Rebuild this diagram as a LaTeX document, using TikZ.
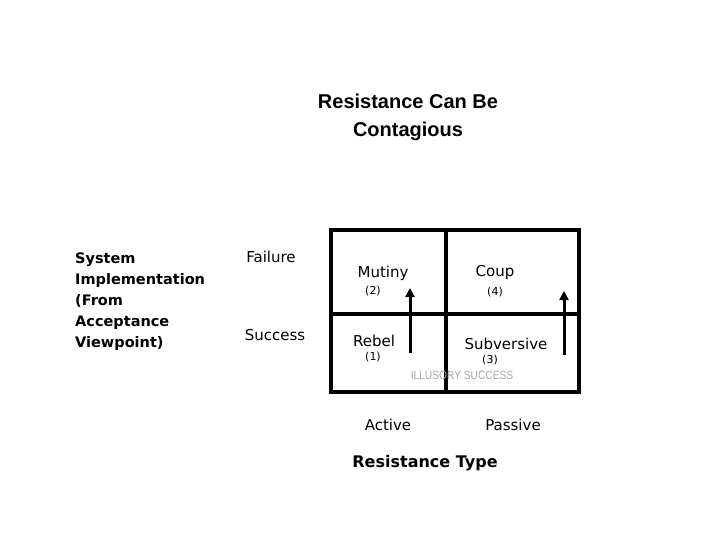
\documentclass[tikz,border=0pt]{standalone}
\usepackage{fontspec}
\setmainfont{DejaVu Sans}
\newfontfamily\arialf{Liberation Sans}
\newfontfamily\condf{Liberation Sans}
\usetikzlibrary{arrows.meta}
\tikzset{lbl/.style={inner sep=0pt,font=\fontsize{15}{15}\selectfont},
 sml/.style={inner sep=0pt,font=\fontsize{11}{11}\selectfont},
 up/.style={line width=3pt,-{Triangle[length=9pt,width=9pt]}}}
\begin{document}
\begin{tikzpicture}[x=1pt,y=-1pt]
\useasboundingbox (0,0) rectangle (720,540);
\node[inner sep=0pt,align=center,font=\arialf\bfseries\fontsize{20}{28}\selectfont] (title) at (408,117) {Resistance Can Be\\Contagious};
\node[inner sep=0pt,align=left,anchor=west,font=\bfseries\fontsize{14.5}{21}\selectfont] (sys) at (75,302) {System\\Implementation\\(From\\Acceptance\\Viewpoint)};
\node[lbl] (fail) at (271,257) {Failure};
\node[lbl] (succ) at (275,335) {Success};
\draw[line width=3.5pt] (331,230) rectangle (579,392);
\coordinate (vt) at (446,230); \coordinate (vb) at (446,392);
\coordinate (hl) at (331,314); \coordinate (hr) at (579,314);
\draw[line width=3.5pt] (vt) -- (vb);
\draw[line width=3.5pt] (hl) -- (hr);
\coordinate (a1) at (410,353); \coordinate (a2) at (410,288);
\coordinate (b1) at (564,355); \coordinate (b2) at (564,291);
\draw[up] (a1) -- (a2);
\draw[up] (b1) -- (b2);
\node[lbl] (mut) at (383,273) {Mutiny};
\node[sml] (n2) at (373,291) {(2)};
\node[lbl] (coup) at (495,272) {Coup};
\node[sml] (n4) at (495,292) {(4)};
\node[lbl] (reb) at (374,341) {Rebel};
\node[sml] (n1) at (373,357) {(1)};
\node[lbl] (sub) at (506,344) {Subversive};
\node[sml] (n3) at (490,360) {(3)};
\node[inner sep=0pt,text=gray!70,font=\condf\fontsize{12}{12}\selectfont,xscale=0.85] (ill) at (462,375) {ILLUSORY SUCCESS};
\node[lbl] (act) at (388,425) {Active};
\node[lbl] (pas) at (513,425) {Passive};
\node[inner sep=0pt,font=\bfseries\fontsize{16}{16}\selectfont] (rt) at (425,463) {Resistance Type};
\end{tikzpicture}
\end{document}
